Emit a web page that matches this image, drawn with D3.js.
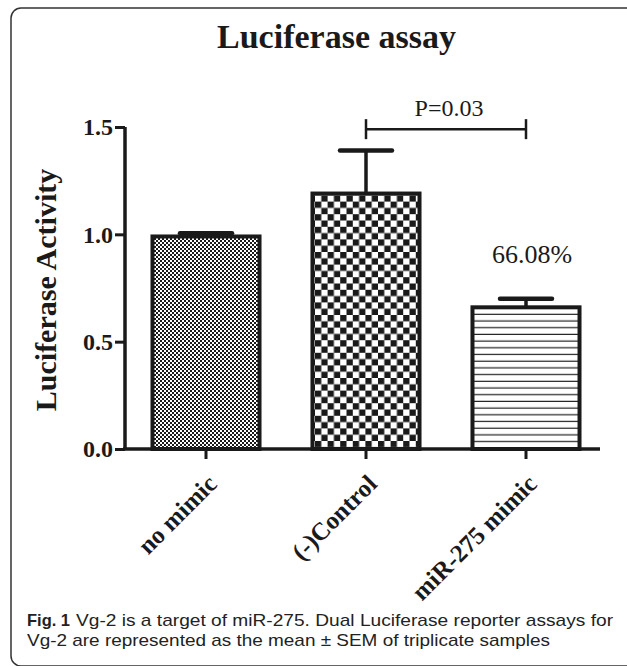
<!DOCTYPE html>
<html>
<head>
<meta charset="utf-8">
<script src="https://cdn.jsdelivr.net/npm/d3@7"></script>
<style>
  body { margin: 0; background: #fff; }
  svg { display: block; }
</style>
</head>
<body>
<div id="chart"></div>
<script>
// data
var categories = ["no mimic", "(-)Control", "miR-275 mimic"];
var means = [0.99, 1.19, 0.66];
var sems = [0.015, 0.20, 0.04];
var patterns = ["fineCheck", "coarseCheck", "hLines"];
var yTicks = [0.0, 0.5, 1.0, 1.5];
var sigPair = ["(-)Control", "miR-275 mimic"];
var sigLevel = [1.49];
var sigText = ["P=0.03"];
var pctText = ["66.08%"];

(function () {

    var W = 627, H = 666;
    var ink = "#1a1a1a";
    var serif = "'Liberation Serif', 'Times New Roman', serif";

    var svg = d3.select("#chart").append("svg")
        .attr("width", W)
        .attr("height", H);

    // frame round the figure
    svg.append("rect")
        .attr("x", 11).attr("y", 8)
        .attr("width", 640).attr("height", 658)
        .attr("rx", 10).attr("ry", 10)
        .attr("fill", "none")
        .attr("stroke", "#333")
        .attr("stroke-width", 1.5);

    //fill patterns for the three bars
    var defs = svg.append("defs");

    var p1 = defs.append("pattern").attr("id", "fineCheck")
        .attr("patternUnits", "userSpaceOnUse").attr("width", 4).attr("height", 4);
    p1.append("rect").attr("width", 4).attr("height", 4).attr("fill", "#fff");
    p1.append("rect").attr("width", 2).attr("height", 2).attr("fill", ink);
    p1.append("rect").attr("x", 2).attr("y", 2).attr("width", 2).attr("height", 2).attr("fill", ink);

    var p2 = defs.append("pattern").attr("id", "coarseCheck")
        .attr("patternUnits", "userSpaceOnUse").attr("width", 12.6).attr("height", 12.6);
    p2.append("rect").attr("width", 12.6).attr("height", 12.6).attr("fill", "#fff");
    p2.append("rect").attr("width", 6.3).attr("height", 6.3).attr("fill", ink);
    p2.append("rect").attr("x", 6.3).attr("y", 6.3).attr("width", 6.3).attr("height", 6.3).attr("fill", ink);

    var p3 = defs.append("pattern").attr("id", "hLines")
        .attr("patternUnits", "userSpaceOnUse").attr("width", 10).attr("height", 6.7);
    p3.append("rect").attr("width", 10).attr("height", 6.7).attr("fill", "#fff");
    p3.append("rect").attr("y", 5.5).attr("width", 10).attr("height", 1.5).attr("fill", "#222");

    //scales
    var x = d3.scaleBand()
        .domain(categories)
        .range([126, 606])
        .paddingInner(0.331)
        .paddingOuter(0.1655);

    var y = d3.scaleLinear()
        .domain([0, 1.5])
        .range([449, 127]);

    // title
    svg.append("text")
        .attr("x", 336.5)
        .attr("y", 48)
        .attr("text-anchor", "middle")
        .style("font-family", serif)
        .style("font-weight", "bold")
        .style("font-size", "34px")
        .style("fill", ink)
        .text("Luciferase assay");

    // bars
    var data = categories.map(function (c, i) {
        return { cat: c, mean: means[i], sem: sems[i], pat: patterns[i] };
    });

    svg.selectAll(".bar")
        .data(data)
        .enter().append("rect")
        .attr("class", "bar")
        .attr("x", function (d) { return x(d.cat); })
        .attr("width", x.bandwidth())
        .attr("y", function (d) { return y(d.mean); })
        .attr("height", function (d) { return y(0) - y(d.mean); })
        .attr("fill", function (d) { return "url(#" + d.pat + ")"; })
        .attr("stroke", ink)
        .attr("stroke-width", 4);

    // error bars, upper half only
    var eb = svg.selectAll(".err")
        .data(data)
        .enter().append("g")
        .attr("class", "err");

    eb.append("line")
        .attr("x1", function (d) { return x(d.cat) + x.bandwidth() / 2; })
        .attr("x2", function (d) { return x(d.cat) + x.bandwidth() / 2; })
        .attr("y1", function (d) { return y(d.mean); })
        .attr("y2", function (d) { return y(d.mean + d.sem); })
        .attr("stroke", ink)
        .attr("stroke-width", 3.5);

    eb.append("line")
        .attr("x1", function (d) { return x(d.cat) + x.bandwidth() / 2 - 26; })
        .attr("x2", function (d) { return x(d.cat) + x.bandwidth() / 2 + 26; })
        .attr("y1", function (d) { return y(d.mean + d.sem); })
        .attr("y2", function (d) { return y(d.mean + d.sem); })
        .attr("stroke", ink)
        .attr("stroke-width", 4.5)
        .attr("stroke-linecap", "round");

    // y axis
    var yAxis = d3.axisLeft(y)
        .tickValues(yTicks)
        .tickFormat(d3.format(".1f"))
        .tickSize(10)
        .tickSizeOuter(0)
        .tickPadding(2);

    var gy = svg.append("g")
        .attr("transform", "translate(125,0)")
        .call(yAxis);
    gy.select(".domain").attr("stroke", ink).attr("stroke-width", 3.5)
        .attr("d", "M0," + y(1.5) + "V" + y(0));
    gy.selectAll(".tick line").attr("stroke", ink).attr("stroke-width", 3);
    gy.selectAll(".tick text")
        .style("font-family", serif)
        .style("font-weight", "bold")
        .style("font-size", "24px")
        .style("fill", ink);

    // x axis
    var xAxis = d3.axisBottom(x)
        .tickSize(10)
        .tickSizeOuter(0);

    var gx = svg.append("g")
        .attr("transform", "translate(0," + y(0) + ")")
        .call(xAxis);
    gx.select(".domain").attr("stroke", ink).attr("stroke-width", 3.5)
        .attr("d", "M123,0H" + (x.range()[1] - 6));
    gx.selectAll(".tick line").attr("stroke", ink).attr("stroke-width", 3);
    gx.selectAll(".tick text")
        .attr("text-anchor", "end")
        .attr("transform", "translate(0,24) rotate(-45)")
        .attr("x", 0).attr("y", 0).attr("dy", "0.7em")
        .style("font-family", serif)
        .style("font-weight", "bold")
        .style("font-size", "25px")
        .style("fill", ink);

    // y axis title
    svg.append("text")
        .attr("transform", "translate(56,290) rotate(-90)")
        .attr("text-anchor", "middle")
        .style("font-family", serif)
        .style("font-weight", "bold")
        .style("font-size", "30px")
        .style("fill", ink)
        .text("Luciferase Activity");

    // significance bracket
    var xa = x(sigPair[0]) + x.bandwidth() / 2,
        xb = x(sigPair[1]) + x.bandwidth() / 2,
        ys = y(sigLevel[0]);
    var br = svg.append("g").attr("stroke", ink).attr("stroke-width", 2.5);
    br.append("line").attr("x1", xa).attr("x2", xb).attr("y1", ys).attr("y2", ys);
    br.append("line").attr("x1", xa).attr("x2", xa).attr("y1", ys - 10).attr("y2", ys + 10);
    br.append("line").attr("x1", xb).attr("x2", xb).attr("y1", ys - 10).attr("y2", ys + 10);

    svg.append("text")
        .attr("x", (xa + xb) / 2 + 3)
        .attr("y", ys - 13)
        .attr("text-anchor", "middle")
        .style("font-family", serif)
        .style("font-size", "24px")
        .style("fill", ink)
        .text(sigText[0]);

    // percentage over the mimic bar
    var last = data[2];
    svg.append("text")
        .attr("x", x(last.cat) + x.bandwidth() / 2 + 6)
        .attr("y", y(last.mean + last.sem) - 36)
        .attr("text-anchor", "middle")
        .style("font-family", serif)
        .style("font-size", "26px")
        .style("fill", ink)
        .text(pctText[0]);

    // caption
    var cap = svg.append("g")
        .style("font-family", "'Liberation Sans', Arial, sans-serif")
        .style("font-size", "17px")
        .style("fill", "#222");

    cap.append("text")
        .attr("x", 27).attr("y", 626)
        .attr("textLength", 43)
        .attr("lengthAdjust", "spacingAndGlyphs")
        .style("font-weight", "bold")
        .text("Fig. 1");

    cap.append("text")
        .attr("x", 76).attr("y", 626)
        .attr("textLength", 537)
        .attr("lengthAdjust", "spacingAndGlyphs")
        .text("Vg-2 is a target of miR-275. Dual Luciferase reporter assays for");

    cap.append("text")
        .attr("x", 27).attr("y", 646)
        .attr("textLength", 523)
        .attr("lengthAdjust", "spacingAndGlyphs")
        .text("Vg-2 are represented as the mean \u00b1 SEM of triplicate samples");

})();
</script>
</body>
</html>
